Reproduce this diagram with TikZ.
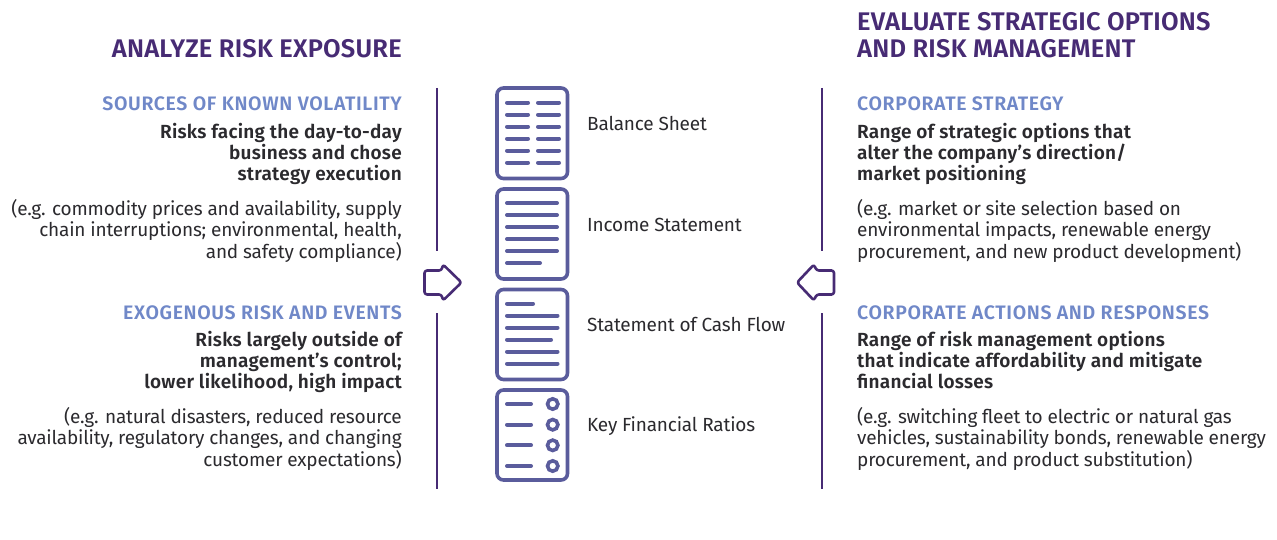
\documentclass[tikz,border=0pt]{standalone}
\usepackage{fontspec}
\setmainfont{Fira Sans}
\newfontfamily\semi{Fira Sans SemiBold}
\definecolor{ttl}{HTML}{472B74}
\definecolor{sub}{HTML}{7088C8}
\definecolor{ink}{HTML}{2B2A2E}
\definecolor{icn}{HTML}{5A5C9C}
\tikzset{
  x=1pt,y=-1pt,
  heading/.style={inner sep=0pt,text=ttl,font=\fontsize{25.5}{27}\semi\addfontfeatures{LetterSpace=0.8}\selectfont},
  subhead/.style={inner sep=0pt,text=sub,font=\fontsize{19.5}{21.5}\semi\addfontfeatures{LetterSpace=3.2}\selectfont},
  lead/.style={inner sep=0pt,text=ink,font=\fontsize{19}{21}\semi\addfontfeatures{LetterSpace=1.3}\selectfont},
  body/.style={inner sep=0pt,text=ink,font=\fontsize{19}{21.5}\selectfont\addfontfeatures{LetterSpace=-1}},
  label/.style={inner sep=0pt,text=ink,anchor=west,font=\fontsize{19}{21.5}\selectfont\addfontfeatures{LetterSpace=-1}},
  rule/.style={draw=ttl,line width=2pt},
  arrowshape/.style={draw=ttl,line width=2.6pt,rounded corners=2.5pt,line join=round},
  sheet/.style={draw=icn,line width=3.6pt,rounded corners=6.5pt},
  row/.style={draw=icn,line width=4pt,line cap=round},
  dot/.style={draw=icn,line width=3.6pt}
}
\begin{document}
\begin{tikzpicture}
\useasboundingbox (0,0) rectangle (1277,540);
% headings
\node[heading,anchor=base east,align=right] (h1) at (402,58) {ANALYZE RISK EXPOSURE};
\node[heading,anchor=base west] (h2a) at (857,31) {EVALUATE STRATEGIC OPTIONS};
\node[heading,anchor=base west] (h2b) at (857,58) {AND RISK MANAGEMENT};
% left column
\node[subhead,anchor=base east] (l1) at (402,111) {SOURCES OF KNOWN VOLATILITY};
\node[lead,anchor=base east] (l2a) at (402,138.7) {Risks facing the day-to-day};
\node[lead,anchor=base east] (l2b) at (402,159.7) {business and chose};
\node[lead,anchor=base east] (l2c) at (402,180.7) {strategy execution};
\node[body,anchor=base east] (l3a) at (402,215) {(e.g. commodity prices and availability, supply};
\node[body,anchor=base east] (l3b) at (402,236.7) {chain interruptions; environmental, health,};
\node[body,anchor=base east] (l3c) at (402,258.3) {and safety compliance)};
\node[subhead,anchor=base east] (l4) at (402,319) {EXOGENOUS RISK AND EVENTS};
\node[lead,anchor=base east] (l5a) at (402,346.7) {Risks largely outside of};
\node[lead,anchor=base east] (l5b) at (402,367.7) {management’s control;};
\node[lead,anchor=base east] (l5c) at (402,388.7) {lower likelihood, high impact};
\node[body,anchor=base east] (l6a) at (402,423) {(e.g. natural disasters, reduced resource};
\node[body,anchor=base east] (l6b) at (402,444.5) {availability, regulatory changes, and changing};
\node[body,anchor=base east] (l6c) at (402,466) {customer expectations)};
% right column
\node[subhead,anchor=base west] (r1) at (857,111) {CORPORATE STRATEGY};
\node[lead,anchor=base west] (r2a) at (857,138.7) {Range of strategic options that};
\node[lead,anchor=base west] (r2b) at (857,159.7) {alter the company’s direction/};
\node[lead,anchor=base west] (r2c) at (857,180.7) {market positioning};
\node[body,anchor=base west] (r3a) at (857,215) {(e.g. market or site selection based on};
\node[body,anchor=base west] (r3b) at (857,236.7) {environmental impacts, renewable energy};
\node[body,anchor=base west] (r3c) at (857,258.3) {procurement, and new product development)};
\node[subhead,anchor=base west] (r4) at (857,319) {CORPORATE ACTIONS AND RESPONSES};
\node[lead,anchor=base west] (r5a) at (857,346.7) {Range of risk management options};
\node[lead,anchor=base west] (r5b) at (857,367.7) {that indicate affordability and mitigate};
\node[lead,anchor=base west] (r5c) at (857,388.7) {financial losses};
\node[body,anchor=base west] (r6a) at (857,423) {(e.g. switching fleet to electric or natural gas};
\node[body,anchor=base west] (r6b) at (857,444.5) {vehicles, sustainability bonds, renewable energy};
\node[body,anchor=base west] (r6c) at (857,466) {procurement, and product substitution)};
% centre labels
\node[label] (c1) at (587,123.5) {Balance Sheet};
\node[label] (c2) at (587,225) {Income Statement};
\node[label] (c3) at (587,324.5) {Statement of Cash Flow};
\node[label] (c4) at (587,426) {Key Financial Ratios};
% rules
\draw[rule] (436.5,88) -- (436.5,251);
\draw[rule] (436.5,313) -- (436.5,489);
\draw[rule] (822,88) -- (822,251);
\draw[rule] (822,313) -- (822,489);
% arrows
\draw[arrowshape] (424.5,270.5) -- (441.5,270.5) -- (443,264.5) -- (461.5,282.5) -- (443,300.5) -- (441.5,294.5) -- (424.5,294.5) -- cycle;
\draw[arrowshape] (834,270.5) -- (816.5,270.5) -- (814,264.5) -- (797,282.5) -- (814,300.5) -- (816.5,294.5) -- (834,294.5) -- cycle;
% icon 1
\draw[sheet] (497,88) rectangle (567.5,178.5);
\foreach \y in {102.7,114.7,126.7,138.7,150.7,162.7}{
  \draw[row] (507,\y) -- (528,\y);
  \draw[row] (538,\y) -- (559,\y);
}
% icon 2
\draw[sheet] (497,189) rectangle (567.5,279);
\foreach \y in {203,215,227,239,251}{\draw[row] (507,\y) -- (557,\y);}
\draw[row] (507,263) -- (540,263);
% icon 3
\draw[sheet] (497,289.5) rectangle (567.5,379.5);
\draw[row] (507,303.7) -- (533,303.7);
\draw[row] (507,315.7) -- (557.5,315.7);
\draw[row] (507,327.7) -- (557.5,327.7);
\draw[row] (507,339.7) -- (551,339.7);
\draw[row] (507,351.7) -- (557.5,351.7);
\draw[row] (507,363.7) -- (557.5,363.7);
% icon 4
\draw[sheet] (497,390) rectangle (567.5,480);
\foreach \y in {404,424.7,445.3,466}{
  \draw[row] (507,\y) -- (531,\y);
  \draw[dot] (552.7,\y) circle[radius=5.2];
}
\end{tikzpicture}
\end{document}
